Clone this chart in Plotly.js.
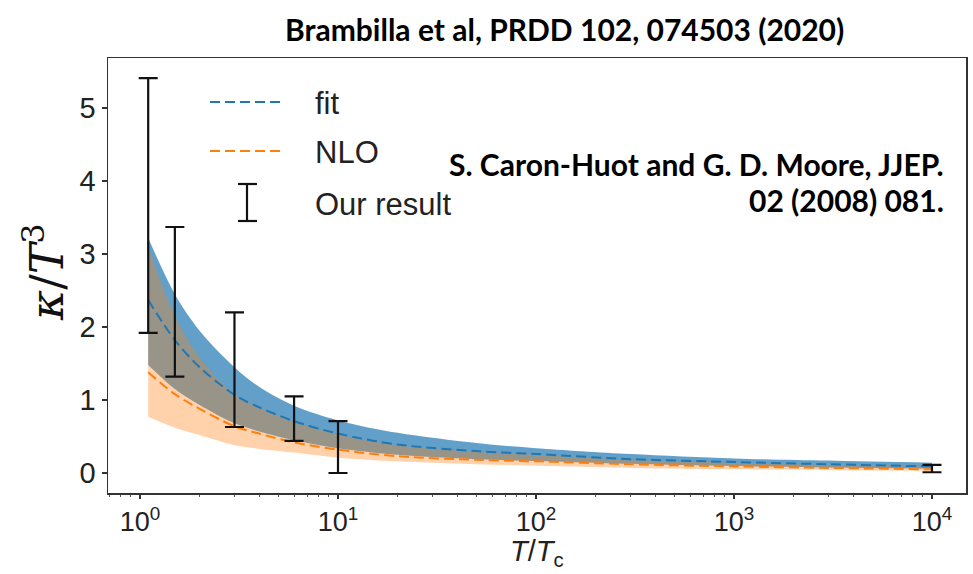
<!DOCTYPE html>
<html>
<head>
<meta charset="utf-8">
<script src="https://cdn.plot.ly/plotly-3.0.1.min.js"></script>
<style>html,body{margin:0;padding:0;background:#fff;}#chart{width:973px;height:574px;}</style>
</head>
<body>
<div id="chart"></div>
<script>
// ---- data ----
var T_grid      = [1.1, 1.5, 2, 3, 4, 6, 10, 20, 50, 100, 300, 1000, 3000, 10000];
var fit_center  = [2.37, 1.82, 1.45, 1.07, 0.90, 0.71, 0.54, 0.39, 0.30, 0.26, 0.19, 0.15, 0.12, 0.09];
var fit_upper   = [3.22, 2.45, 1.95, 1.45, 1.18, 0.92, 0.72, 0.55, 0.41, 0.34, 0.26, 0.20, 0.17, 0.14];
var fit_lower   = [1.48, 1.15, 0.93, 0.68, 0.57, 0.45, 0.34, 0.25, 0.19, 0.165, 0.125, 0.095, 0.075, 0.06];
var nlo_center  = [1.38, 1.08, 0.88, 0.64, 0.54, 0.42, 0.32, 0.23, 0.18, 0.16, 0.12, 0.09, 0.07, 0.05];
var nlo_upper   = [3.10, 2.15, 1.58, 1.08, 0.90, 0.70, 0.53, 0.38, 0.29, 0.25, 0.18, 0.14, 0.11, 0.085];
var nlo_lower   = [0.77, 0.62, 0.52, 0.38, 0.33, 0.28, 0.21, 0.16, 0.12, 0.10, 0.07, 0.05, 0.04, 0.03];

var T_result    = [1.1, 1.5, 3, 6, 10, 10000];
var res_low     = [1.92, 1.32, 0.63, 0.44, 0.00, 0.01];
var res_high    = [5.41, 3.37, 2.20, 1.05, 0.71, 0.11];

var x_tickvals  = [1, 10, 100, 1000, 10000];
var x_ticktext  = ['10<sup>0</sup>', '10<sup>1</sup>', '10<sup>2</sup>', '10<sup>3</sup>', '10<sup>4</sup>'];
var y_tickvals  = [0, 1, 2, 3, 4, 5];
var y_ticktext  = ['0', '1', '2', '3', '4', '5'];

var legend_labels = ['fit', 'NLO', 'Our result'];
var title_text = '<b>Brambilla et al, PRDD 102, 074503 (2020)</b>';
var cite_line1 = '<b>S. Caron-Huot and G. D. Moore, JJEP.</b>';
var cite_line2 = '<b>02 (2008) 081.</b>';
var x_title = '<i>T</i>/<i>T</i><sub>c</sub>';
var y_title = '<i>κ</i>/<i>T</i><sup>3</sup>';

// ---- derived ----
var res_mid = res_low.map(function(l, i){ return (l + res_high[i]) / 2; });
var res_err = res_low.map(function(l, i){ return (res_high[i] - l) / 2; });

var BLUE = '#1f77b4', ORANGE = '#ff7f0e';
var DASH = '10px,5px';
var SM = 0.9;

var traces = [
  {x: T_grid, y: fit_lower, mode: 'lines', line: {width: 0, shape: 'spline', smoothing: SM}, hoverinfo: 'skip'},
  {x: T_grid, y: fit_upper, mode: 'lines', line: {width: 0, shape: 'spline', smoothing: SM}, fill: 'tonexty',
   fillcolor: 'rgba(31,119,180,0.70)', hoverinfo: 'skip'},
  {x: T_grid, y: nlo_lower, mode: 'lines', line: {width: 0, shape: 'spline', smoothing: SM}, hoverinfo: 'skip'},
  {x: T_grid, y: nlo_upper, mode: 'lines', line: {width: 0, shape: 'spline', smoothing: SM}, fill: 'tonexty',
   fillcolor: 'rgba(255,127,14,0.35)', hoverinfo: 'skip'},
  {x: T_grid, y: fit_center, mode: 'lines', name: legend_labels[0],
   line: {color: BLUE, width: 2, dash: DASH, shape: 'spline', smoothing: SM}},
  {x: T_grid, y: nlo_center, mode: 'lines', name: legend_labels[1],
   line: {color: ORANGE, width: 2, dash: DASH, shape: 'spline', smoothing: SM}},
  {x: T_result, y: res_mid, mode: 'markers', name: legend_labels[2],
   marker: {size: 1, color: 'rgba(0,0,0,0)'},
   error_y: {type: 'data', array: res_err, visible: true, color: '#111', thickness: 2.2, width: 9.5}}
];

// legend + texts placed in paper coordinates
function px2x(p){ return (p - 108) / 858; }
function px2y(p){ return (493 - p) / 435; }
var shapes = [
  {type: 'line', xref: 'paper', yref: 'paper', x0: px2x(210), x1: px2x(283), y0: px2y(102), y1: px2y(102),
   line: {color: BLUE, width: 2, dash: DASH}},
  {type: 'line', xref: 'paper', yref: 'paper', x0: px2x(210), x1: px2x(283), y0: px2y(151), y1: px2y(151),
   line: {color: ORANGE, width: 2, dash: DASH}},
  {type: 'line', xref: 'paper', yref: 'paper', x0: px2x(247), x1: px2x(247), y0: px2y(184), y1: px2y(221),
   line: {color: '#111', width: 2.2}},
  {type: 'line', xref: 'paper', yref: 'paper', x0: px2x(238), x1: px2x(257), y0: px2y(184), y1: px2y(184),
   line: {color: '#111', width: 2.2}},
  {type: 'line', xref: 'paper', yref: 'paper', x0: px2x(238), x1: px2x(257), y0: px2y(221), y1: px2y(221),
   line: {color: '#111', width: 2.2}}
];
var legFont = {family: 'Liberation Sans, Arial, sans-serif', size: 31, color: '#222'};
var boldFont = {family: 'Lato, Liberation Sans, sans-serif', size: 30, color: '#000'};
var annotations = [
  {xref: 'paper', yref: 'paper', x: px2x(313), y: px2y(103), xanchor: 'left', yanchor: 'middle',
   text: legend_labels[0], showarrow: false, font: legFont},
  {xref: 'paper', yref: 'paper', x: px2x(313), y: px2y(152), xanchor: 'left', yanchor: 'middle',
   text: legend_labels[1], showarrow: false, font: legFont},
  {xref: 'paper', yref: 'paper', x: px2x(313), y: px2y(204), xanchor: 'left', yanchor: 'middle',
   text: legend_labels[2], showarrow: false, font: legFont},
  {xref: 'paper', yref: 'paper', x: px2x(564), y: px2y(29), xanchor: 'center', yanchor: 'middle',
   text: title_text, showarrow: false, font: boldFont},
  {xref: 'paper', yref: 'paper', x: px2x(946), y: px2y(164), xanchor: 'right', yanchor: 'middle',
   text: cite_line1, showarrow: false, font: boldFont},
  {xref: 'paper', yref: 'paper', x: px2x(946), y: px2y(200), xanchor: 'right', yanchor: 'middle',
   text: cite_line2, showarrow: false, font: boldFont},
  {xref: 'paper', yref: 'paper', x: px2x(44), y: px2y(272), xanchor: 'center', yanchor: 'middle',
   textangle: -90, text: y_title, showarrow: false,
   font: {family: 'DejaVu Serif, serif', size: 46, color: '#111'}},
  {xref: 'paper', yref: 'paper', x: px2x(537), y: px2y(573), xanchor: 'center', yanchor: 'bottom',
   text: x_title, showarrow: false,
   font: {family: 'Liberation Sans, Arial, sans-serif', size: 29, color: '#222'}}
];

var minorVals = [];
for (var k = -1; k <= 4; k++) {
  for (var m = 2; m <= 9; m++) minorVals.push(m * Math.pow(10, k));
}

var layout = {
  width: 973, height: 574,
  margin: {l: 108, r: 7, t: 58, b: 81, pad: 0},
  paper_bgcolor: '#fff', plot_bgcolor: '#fff',
  showlegend: false,
  xaxis: {
    type: 'log', range: [-0.1616, 4.1717],
    tickmode: 'array', tickvals: x_tickvals, ticktext: x_ticktext,
    ticks: 'outside', ticklen: 4, tickwidth: 1.2, tickcolor: '#333',
    minor: {tickmode: 'array', tickvals: minorVals, ticks: 'outside', ticklen: 2.5, tickwidth: 1, tickcolor: '#555'},
    showline: true, mirror: true, linecolor: '#333', linewidth: 1.5,
    showgrid: false, zeroline: false,
    tickfont: {family: 'Liberation Sans, Arial, sans-serif', size: 27, color: '#222'}
  },
  yaxis: {
    range: [-0.274, 5.685],
    tickmode: 'array', tickvals: y_tickvals, ticktext: y_ticktext,
    ticks: 'outside', ticklen: 5, tickwidth: 1.2, tickcolor: '#333',
    showline: true, mirror: true, linecolor: '#333', linewidth: 1.5,
    showgrid: false, zeroline: false,
    tickfont: {family: 'Liberation Sans, Arial, sans-serif', size: 29, color: '#222'}
  },
  shapes: shapes,
  annotations: annotations
};

Plotly.newPlot('chart', traces, layout, {displayModeBar: false, staticPlot: true});
</script>
</body>
</html>
